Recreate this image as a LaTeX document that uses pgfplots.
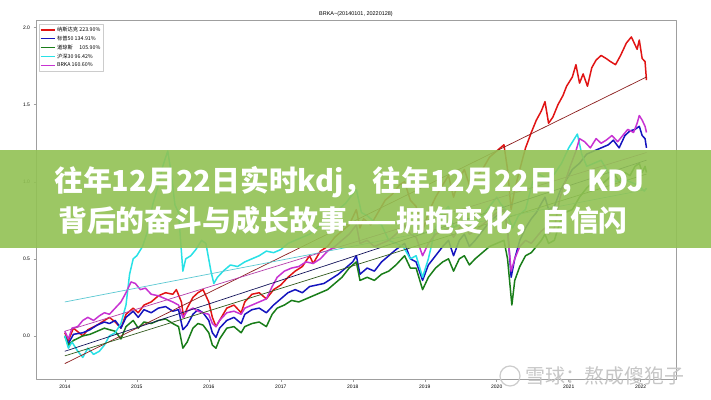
\documentclass[border=0pt]{standalone}
\usepackage{fontspec}
\setmainfont{Liberation Sans}
\newfontfamily\cjk{Noto Sans CJK SC}
\usepackage{pgfplots}
\pgfplotsset{compat=1.18}
\definecolor{sred}{RGB}{225,20,20}
\definecolor{sblue}{RGB}{20,20,190}
\definecolor{sgreen}{RGB}{25,125,25}
\definecolor{scyan}{RGB}{40,225,230}
\definecolor{smag}{RGB}{200,50,210}
\definecolor{tred}{RGB}{140,30,30}
\definecolor{tblue}{RGB}{20,20,90}
\definecolor{tgreen}{RGB}{50,90,30}
\definecolor{tcyan}{RGB}{90,200,210}
\definecolor{tmag}{RGB}{180,60,170}
\definecolor{banner}{RGB}{146,194,84}
\begin{document}
\begin{tikzpicture}
\fill[white] (0bp,0bp) rectangle (711bp,400bp);
\begin{axis}[at={(36bp,21bp)}, anchor=south west, width=640bp, height=359bp, scale only axis,
  xmin=2013.6, xmax=2022.49, ymin=-0.28, ymax=2.05,
  xtick={2014,2015,2016,2017,2018,2019,2020,2021,2022},
  ytick={0,0.5,1,1.5,2},
  xticklabel style={/pgf/number format/1000 sep={}},
  yticklabel style={/pgf/number format/fixed, /pgf/number format/fixed zerofill, /pgf/number format/precision=1},
  /pgf/number format/assume math mode=true,
  ticklabel style={font=\fontsize{5}{6}\selectfont},
  axis line style={draw=gray!75, line width=0.8pt},
  tick align=outside, major tick length=2.5bp, tick style={gray!75, line width=0.5pt},
  xtick pos=bottom, ytick pos=left,
  title={BRKA\textasciitilde(20140101, 20220128)},
  title style={font=\fontsize{5.5}{6}\selectfont, yshift=-6bp},
  legend style={at={(0.004,0.99)}, anchor=north west, font=\cjk\fontsize{5.3}{6}\selectfont, draw=gray!40, inner sep=1.2pt, row sep=-1pt},
  legend cell align=left,
  legend image code/.code={\draw[#1, line width=1.2pt] (0bp,0bp) -- (14bp,0bp);},
  line join=round,
]
\addplot[sred, line width=1.5pt] coordinates {
(2014.00,0.02)(2014.05,-0.03)(2014.12,0.05)(2014.25,0.00)(2014.32,0.04)(2014.45,0.07)(2014.55,0.10)(2014.62,0.12)(2014.70,0.09)(2014.78,0.05)(2014.85,0.14)(2014.95,0.18)
(2015.02,0.15)(2015.10,0.20)(2015.20,0.22)(2015.30,0.26)(2015.40,0.28)(2015.50,0.27)(2015.55,0.30)(2015.62,0.22)(2015.65,0.12)(2015.70,0.18)(2015.78,0.25)(2015.85,0.28)(2015.92,0.30)
(2016.00,0.22)(2016.05,0.12)(2016.10,0.06)(2016.15,0.10)(2016.25,0.18)(2016.35,0.20)(2016.45,0.15)(2016.50,0.22)(2016.60,0.27)(2016.70,0.28)(2016.80,0.24)(2016.90,0.30)
(2017.00,0.33)(2017.10,0.38)(2017.20,0.42)(2017.30,0.45)(2017.40,0.52)(2017.45,0.47)(2017.55,0.55)(2017.65,0.58)(2017.75,0.64)(2017.85,0.68)(2017.95,0.72)
(2018.05,0.82)(2018.10,0.70)(2018.15,0.76)(2018.25,0.72)(2018.35,0.80)(2018.45,0.88)(2018.55,0.92)(2018.65,0.98)(2018.72,1.00)(2018.80,0.88)(2018.88,0.84)(2018.97,0.68)
(2019.05,0.80)(2019.15,0.90)(2019.25,0.98)(2019.33,1.04)(2019.40,0.90)(2019.48,1.02)(2019.55,1.08)(2019.62,0.98)(2019.70,1.02)(2019.80,1.08)(2019.90,1.16)
(2020.00,1.20)(2020.10,1.24)(2020.15,1.08)(2020.20,0.82)(2020.25,0.95)(2020.32,1.08)(2020.40,1.22)(2020.48,1.32)(2020.55,1.40)(2020.62,1.46)(2020.67,1.52)(2020.72,1.38)(2020.78,1.42)(2020.85,1.50)(2020.92,1.56)(2020.97,1.62)
(2021.05,1.68)(2021.10,1.76)(2021.15,1.64)(2021.20,1.70)(2021.26,1.62)(2021.32,1.74)(2021.38,1.79)(2021.45,1.82)(2021.52,1.80)(2021.58,1.78)(2021.65,1.76)(2021.72,1.82)(2021.80,1.90)(2021.87,1.94)(2021.91,1.90)(2021.95,1.86)(2021.98,1.92)
(2022.02,1.80)(2022.06,1.78)(2022.08,1.66)};
\addlegendentry{纳斯达克 223.90\%}
\addplot[sblue, line width=1.5pt] coordinates {
(2014.00,0.00)(2014.05,-0.05)(2014.12,0.01)(2014.25,0.02)(2014.35,0.04)(2014.45,0.07)(2014.55,0.09)(2014.62,0.08)(2014.70,0.10)(2014.78,0.05)(2014.85,0.12)(2014.95,0.16)
(2015.02,0.12)(2015.10,0.17)(2015.20,0.15)(2015.30,0.18)(2015.40,0.19)(2015.50,0.16)(2015.58,0.17)(2015.64,0.04)(2015.70,0.07)(2015.78,0.14)(2015.85,0.17)(2015.92,0.15)
(2016.00,0.10)(2016.05,0.02)(2016.10,-0.01)(2016.15,0.05)(2016.25,0.10)(2016.35,0.12)(2016.45,0.08)(2016.50,0.14)(2016.60,0.17)(2016.70,0.18)(2016.80,0.15)(2016.90,0.20)
(2017.00,0.24)(2017.10,0.28)(2017.20,0.30)(2017.30,0.28)(2017.40,0.32)(2017.50,0.33)(2017.60,0.34)(2017.70,0.37)(2017.80,0.40)(2017.90,0.44)
(2018.00,0.48)(2018.05,0.52)(2018.10,0.40)(2018.20,0.44)(2018.30,0.42)(2018.40,0.48)(2018.50,0.52)(2018.60,0.56)(2018.72,0.60)(2018.80,0.50)(2018.88,0.48)(2018.97,0.36)
(2019.05,0.46)(2019.15,0.52)(2019.25,0.58)(2019.33,0.62)(2019.40,0.52)(2019.48,0.62)(2019.55,0.66)(2019.62,0.58)(2019.70,0.62)(2019.80,0.68)(2019.90,0.74)
(2020.00,0.78)(2020.10,0.82)(2020.15,0.70)(2020.20,0.38)(2020.25,0.50)(2020.32,0.62)(2020.40,0.70)(2020.48,0.76)(2020.55,0.80)(2020.62,0.86)(2020.67,0.90)(2020.72,0.82)(2020.80,0.84)(2020.88,0.94)(2020.95,1.00)
(2021.05,1.08)(2021.15,1.12)(2021.25,1.18)(2021.35,1.20)(2021.45,1.22)(2021.55,1.24)(2021.62,1.27)(2021.70,1.22)(2021.78,1.30)(2021.85,1.33)(2021.92,1.34)(2021.98,1.36)
(2022.02,1.30)(2022.06,1.28)(2022.08,1.22)};
\addlegendentry{标普50 134.91\%}
\addplot[sgreen, line width=1.5pt] coordinates {
(2014.00,0.00)(2014.05,-0.06)(2014.12,-0.03)(2014.25,0.00)(2014.35,0.01)(2014.45,0.03)(2014.55,0.05)(2014.62,0.04)(2014.70,0.03)(2014.78,-0.02)(2014.85,0.06)(2014.95,0.10)
(2015.02,0.05)(2015.10,0.09)(2015.20,0.08)(2015.30,0.10)(2015.40,0.11)(2015.50,0.08)(2015.58,0.06)(2015.64,-0.08)(2015.70,-0.04)(2015.78,0.05)(2015.85,0.08)(2015.92,0.07)
(2016.00,0.02)(2016.05,-0.06)(2016.10,-0.08)(2016.15,-0.02)(2016.25,0.05)(2016.35,0.06)(2016.45,0.02)(2016.50,0.06)(2016.60,0.08)(2016.70,0.09)(2016.80,0.06)(2016.88,0.14)(2016.95,0.18)
(2017.05,0.20)(2017.15,0.23)(2017.25,0.22)(2017.35,0.24)(2017.45,0.26)(2017.55,0.28)(2017.65,0.30)(2017.75,0.34)(2017.85,0.38)(2017.95,0.44)
(2018.05,0.48)(2018.10,0.36)(2018.20,0.38)(2018.30,0.36)(2018.40,0.40)(2018.50,0.42)(2018.60,0.46)(2018.72,0.52)(2018.80,0.44)(2018.88,0.44)(2018.97,0.30)
(2019.05,0.38)(2019.15,0.44)(2019.25,0.48)(2019.33,0.50)(2019.40,0.42)(2019.48,0.50)(2019.55,0.52)(2019.62,0.46)(2019.70,0.50)(2019.80,0.54)(2019.90,0.58)
(2020.00,0.60)(2020.10,0.62)(2020.15,0.50)(2020.21,0.20)(2020.25,0.36)(2020.32,0.45)(2020.40,0.52)(2020.48,0.54)(2020.55,0.58)(2020.62,0.62)(2020.67,0.66)(2020.72,0.60)(2020.80,0.62)(2020.88,0.74)(2020.95,0.80)
(2021.05,0.82)(2021.15,0.90)(2021.25,0.96)(2021.35,1.00)(2021.45,0.98)(2021.55,1.02)(2021.62,1.06)(2021.70,1.00)(2021.78,1.06)(2021.85,1.04)(2021.92,1.10)(2021.98,1.12)
(2022.02,1.06)(2022.06,1.10)(2022.08,1.06)};
\addlegendentry{道琼斯\quad\ 105.90\%}
\addplot[scyan, line width=1.5pt] coordinates {
(2014.00,0.00)(2014.05,-0.08)(2014.10,-0.04)(2014.18,-0.10)(2014.25,-0.14)(2014.32,-0.08)(2014.40,-0.12)(2014.48,-0.10)(2014.55,-0.06)(2014.62,0.00)(2014.70,0.02)(2014.78,0.08)(2014.85,0.20)(2014.90,0.40)(2014.95,0.50)
(2015.00,0.52)(2015.08,0.58)(2015.15,0.68)(2015.22,0.85)(2015.30,0.98)(2015.36,1.10)(2015.43,1.20)(2015.48,1.05)(2015.53,0.85)(2015.58,0.80)(2015.64,0.42)(2015.68,0.50)(2015.75,0.52)(2015.82,0.56)(2015.90,0.62)(2015.96,0.60)
(2016.03,0.42)(2016.07,0.34)(2016.12,0.38)(2016.20,0.42)(2016.30,0.46)(2016.40,0.45)(2016.50,0.48)(2016.60,0.50)(2016.70,0.52)(2016.80,0.55)(2016.90,0.54)
(2017.00,0.56)(2017.10,0.60)(2017.20,0.62)(2017.30,0.64)(2017.40,0.66)(2017.50,0.70)(2017.60,0.74)(2017.70,0.78)(2017.80,0.82)(2017.90,0.86)
(2018.00,0.92)(2018.05,0.95)(2018.12,0.80)(2018.20,0.78)(2018.30,0.74)(2018.40,0.72)(2018.50,0.62)(2018.60,0.60)(2018.70,0.58)(2018.80,0.50)(2018.88,0.52)(2018.97,0.38)
(2019.05,0.50)(2019.15,0.70)(2019.25,0.80)(2019.33,0.84)(2019.40,0.70)(2019.50,0.74)(2019.60,0.76)(2019.70,0.74)(2019.80,0.78)(2019.90,0.84)
(2020.00,0.90)(2020.05,0.86)(2020.12,0.82)(2020.22,0.70)(2020.30,0.78)(2020.40,0.82)(2020.50,1.00)(2020.58,1.05)(2020.70,1.02)(2020.80,1.05)(2020.90,1.12)
(2021.00,1.22)(2021.08,1.28)(2021.12,1.31)(2021.18,1.18)(2021.25,1.10)(2021.35,1.12)(2021.45,1.14)(2021.55,1.06)(2021.65,1.00)(2021.75,1.02)(2021.85,1.00)(2021.95,0.98)
(2022.05,0.94)(2022.08,0.96)};
\addlegendentry{沪深30 96.42\%}
\addplot[smag, line width=1.5pt] coordinates {
(2014.00,0.03)(2014.05,-0.02)(2014.10,0.05)(2014.18,0.06)(2014.25,0.10)(2014.32,0.12)(2014.40,0.10)(2014.48,0.13)(2014.55,0.15)(2014.62,0.14)(2014.70,0.18)(2014.78,0.22)(2014.85,0.28)(2014.92,0.35)(2014.98,0.34)
(2015.05,0.30)(2015.12,0.31)(2015.20,0.27)(2015.30,0.26)(2015.40,0.24)(2015.50,0.22)(2015.58,0.20)(2015.64,0.12)(2015.70,0.16)(2015.78,0.18)(2015.85,0.16)(2015.92,0.15)
(2016.00,0.14)(2016.05,0.08)(2016.10,0.06)(2016.15,0.10)(2016.25,0.15)(2016.35,0.16)(2016.45,0.14)(2016.50,0.18)(2016.60,0.20)(2016.70,0.22)(2016.80,0.24)(2016.88,0.32)(2016.95,0.38)
(2017.05,0.42)(2017.15,0.44)(2017.25,0.45)(2017.35,0.48)(2017.45,0.47)(2017.55,0.50)(2017.65,0.55)(2017.75,0.58)(2017.85,0.62)(2017.95,0.66)
(2018.05,0.72)(2018.10,0.60)(2018.20,0.62)(2018.30,0.58)(2018.40,0.60)(2018.50,0.62)(2018.60,0.66)(2018.72,0.72)(2018.80,0.66)(2018.88,0.64)(2018.97,0.52)
(2019.05,0.60)(2019.15,0.66)(2019.25,0.68)(2019.33,0.70)(2019.40,0.64)(2019.48,0.70)(2019.55,0.72)(2019.62,0.66)(2019.70,0.68)(2019.80,0.72)(2019.90,0.76)
(2020.00,0.80)(2020.10,0.82)(2020.15,0.68)(2020.20,0.42)(2020.25,0.50)(2020.32,0.58)(2020.40,0.62)(2020.48,0.60)(2020.55,0.64)(2020.62,0.68)(2020.67,0.70)(2020.72,0.66)(2020.80,0.70)(2020.88,0.90)(2020.95,1.00)
(2021.02,1.10)(2021.10,1.20)(2021.15,1.28)(2021.22,1.26)(2021.30,1.22)(2021.38,1.28)(2021.45,1.25)(2021.52,1.27)(2021.60,1.30)(2021.68,1.26)(2021.75,1.30)(2021.82,1.34)(2021.90,1.32)(2021.95,1.38)(2021.98,1.43)
(2022.02,1.40)(2022.06,1.36)(2022.08,1.32)};
\addlegendentry{BRKA 160.60\%}
\addplot[tred, line width=0.7pt, forget plot] coordinates {(2014.0,-0.18)(2022.08,1.68)};
\addplot[tblue, line width=0.7pt, forget plot] coordinates {(2014.0,-0.10)(2022.08,1.14)};
\addplot[tgreen, line width=0.7pt, forget plot] coordinates {(2014.0,-0.13)(2022.08,1.05)};
\addplot[tcyan, line width=0.7pt, forget plot] coordinates {(2014.0,0.22)(2022.08,0.95)};
\addplot[tmag, line width=0.7pt, forget plot] coordinates {(2014.0,0.03)(2022.08,1.19)};
\end{axis}
\fill[banner, opacity=0.9] (0bp,152bp) rectangle (711bp,250bp);
\node[anchor=west, text=white, inner sep=0pt, font=\cjk\bfseries\fontsize{29}{31}\selectfont] at (54bp,218bp) {往年12月22日实时kdj，往年12月22日，KDJ};
\node[anchor=west, text=white, inner sep=0pt, font=\cjk\bfseries\fontsize{29}{31}\selectfont] at (58bp,179bp) {背后的奋斗与成长故事——拥抱变化，自信闪};
\draw[gray!40, line width=1.2pt] (510bp,24bp) circle (10bp);
\node[anchor=west, text=gray!45, inner sep=0pt, font=\cjk\fontsize{20}{22}\selectfont] at (525bp,24bp) {雪球：熬成傻狍子};
\end{tikzpicture}
\end{document}
